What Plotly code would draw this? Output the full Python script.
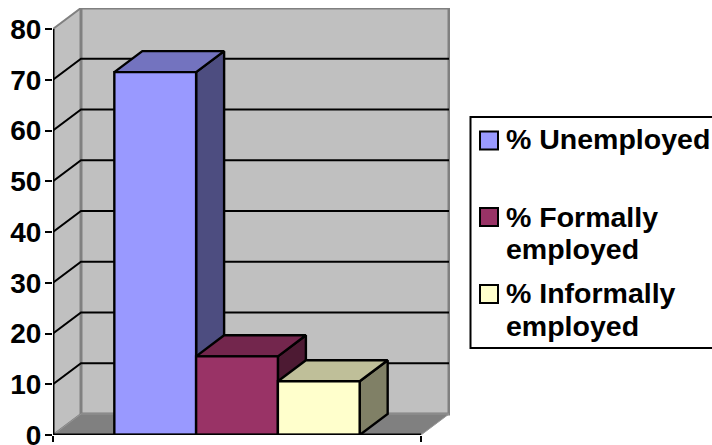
import plotly.graph_objects as go

series_names = ["% Unemployed", "% Formally employed", "% Informally employed"]
series_values = [71.5, 15.5, 10.6]
y_ticks = [0, 10, 20, 30, 40, 50, 60, 70, 80]
legend_lines = [["% Unemployed"], ["% Formally", "employed"], ["% Informally", "employed"]]

front_colors = ["#9999FF", "#993366", "#FFFFCC"]
top_colors = ["#7373BF", "#73264D", "#BFBF99"]
side_colors = ["#4D4D80", "#4D1A33", "#808066"]

DX, DY = 28 / 368, 21 / 5.07
GAP = 1.5
bar_w = 1 / (len(series_values) + GAP)
y_top = max(y_ticks)
FONT = "Liberation Sans, Arial, sans-serif"
WALL, WALL_EDGE = "#C0C0C0", "#808080"
W, H = 712, 445
L, R, T, B = 53, 262, 8, 10

fig = go.Figure()


def poly(xs, ys, fill, line="#000000", width=2.4, name=None):
    fig.add_trace(go.Scatter(
        x=xs, y=ys, mode="lines", fill="toself", fillcolor=fill, name=name,
        line=dict(color=line, width=width), showlegend=False,
        hoverinfo="skip", cliponaxis=False))


def path(xs, ys, color, width):
    fig.add_trace(go.Scatter(
        x=xs, y=ys, mode="lines", line=dict(color=color, width=width),
        showlegend=False, hoverinfo="skip", cliponaxis=False))


# walls and floor
poly([0, DX, DX, 0, 0], [0, DY, y_top + DY, y_top, 0], WALL, WALL_EDGE, 2)
poly([DX, 1 + DX, 1 + DX, DX, DX], [DY, DY, y_top + DY, y_top + DY, DY], WALL, WALL_EDGE, 3)
poly([0, DX, 1 + DX, 1, 0], [0, DY, DY, 0, 0], WALL_EDGE, "#969696", 1)

# gridlines
gx, gy = [], []
for v in y_ticks[1:-1]:
    gx += [0, DX, 1 + DX, None]
    gy += [v, v + DY, v + DY, None]
path(gx, gy, "#000000", 2)

# bars
for i, val in enumerate(series_values):
    x0 = GAP * bar_w / 2 + i * bar_w
    x1 = x0 + bar_w
    poly([x1, x1 + DX, x1 + DX, x1, x1], [0, DY, val + DY, val, 0], side_colors[i])
    poly([x0, x1, x1 + DX, x0 + DX, x0], [val, val, val + DY, val + DY, val], top_colors[i])
    poly([x0, x1, x1, x0, x0], [0, 0, val, val, 0], front_colors[i], name=series_names[i])

# front axis lines
path([0, 0, 1], [y_top, 0, 0], "#000000", 3)


# legend, placed outside the plot area
def px(x):
    return (x - L) / (W - L - R)


def py(y):
    return 1 - (y - T) / (H - T - B)


shapes = [dict(type="rect", xref="paper", yref="paper", x0=px(470.5), x1=px(716),
               y0=py(117), y1=py(348), fillcolor="#FFFFFF",
               line=dict(color="#000000", width=2), layer="above")]
annotations = []
swatch_tops = [131.5, 208, 285]
baselines = [[149], [227, 259], [303, 336]]
for col, sw, lines, bases in zip(front_colors, swatch_tops, legend_lines, baselines):
    shapes.append(dict(type="rect", xref="paper", yref="paper", x0=px(480), x1=px(498),
                       y0=py(sw), y1=py(sw + 18), fillcolor=col,
                       line=dict(color="#000000", width=2), layer="above"))
    for text, base in zip(lines, bases):
        annotations.append(dict(
            text=text, xref="paper", yref="paper", x=px(503.5), y=py(base - 10),
            xanchor="left", yanchor="middle", showarrow=False, align="left",
            font=dict(family=FONT, size=28.5, color="#000000", weight="bold")))

fig.update_layout(
    template="none",
    width=W, height=H, autosize=False,
    margin=dict(l=L, r=R, t=T, b=B, pad=0),
    paper_bgcolor="#FFFFFF", plot_bgcolor="#FFFFFF",
    font=dict(family=FONT, size=27, color="#000000"),
    xaxis=dict(range=[0, 397 / 368], showgrid=False, zeroline=False, showline=False,
               automargin=False,
               tickmode="array", tickvals=[0, 1], ticktext=["", ""],
               ticks="outside", ticklen=6, tickwidth=2, tickcolor="#000000"),
    yaxis=dict(range=[0, y_top + DY], showgrid=False, zeroline=False, showline=False,
               automargin=False, ticklabeloverflow="allow", ticklabelstandoff=-2,
               tickmode="array", tickvals=y_ticks, ticktext=[str(t) for t in y_ticks],
               ticks="outside", ticklen=7, tickwidth=2, tickcolor="#000000",
               tickfont=dict(family=FONT, size=28, color="#000000", weight="bold")),
    shapes=shapes, annotations=annotations, showlegend=False,
)

fig.write_html("out.html", post_script="document.body.style.margin='0';",
               config=dict(displayModeBar=False))
